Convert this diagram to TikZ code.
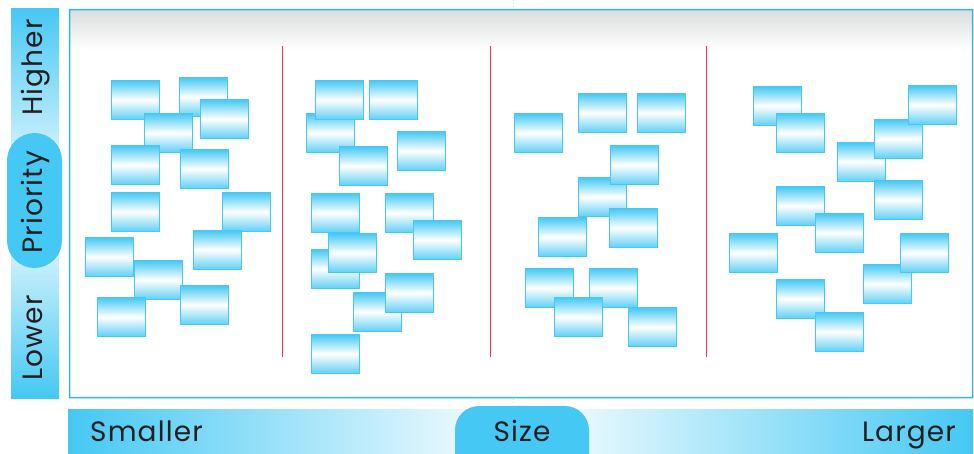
\documentclass[tikz,border=0pt]{standalone}
\usepackage{fontspec}
\setmainfont{Poppins}
\usetikzlibrary{positioning}
\definecolor{skyblue}{RGB}{69,200,243}
\definecolor{framecyan}{RGB}{50,182,232}
\definecolor{splitred}{RGB}{236,51,88}
\definecolor{inkgray}{RGB}{35,31,32}
\definecolor{topgray}{RGB}{220,221,222}
\tikzset{
  card/.style={draw=skyblue, line width=0.8pt, minimum width=48pt, minimum height=39pt,
    inner sep=0pt, anchor=north west, top color=skyblue, bottom color=skyblue!85, middle color=white},
  splitline/.style={draw=splitred, line width=1pt},
  axislabel/.style={text=inkgray, font=\fontsize{28}{30}\selectfont\addfontfeature{LetterSpace=4},
    inner sep=0pt},
}

\begin{document}
\begin{tikzpicture}[x=1pt, y=-1pt]
  \useasboundingbox (0,0) rectangle (974,453);

  % board with grey top band, frame and centre ticks
  \shade[top color=topgray, bottom color=white] (70,10) rectangle (972,50);
  \fill[framecyan, even odd rule] (68.8,8.8) rectangle (973.4,398.4) (70.4,10.4) rectangle (971.8,396.8);
  \draw[draw=skyblue!45, dotted, line width=1pt] (513,0) -- (513,8.5);
  \draw[draw=skyblue!45, dotted, line width=1pt] (513,399) -- (513,405);

  % column splits
  \draw[splitline] (282,46) -- (282,357);
  \draw[splitline] (490,46) -- (490,357);
  \draw[splitline] (706,46) -- (706,357);

  % priority axis
  \shade[top color=skyblue, bottom color=white] (11,8) rectangle (59,203);
  \shade[top color=white, bottom color=skyblue] (11,203) rectangle (59,398);
  \fill[skyblue, rounded corners=27.5pt] (7,133) rectangle (62,268);
  \node[axislabel, rotate=90, anchor=base] (higher) at (42,67.5) {Higher};
  \node[axislabel, rotate=90, anchor=base] (prio) at (42,202.5) {Priority};
  \node[axislabel, rotate=90, anchor=base] (lower) at (42,338) {Lower};

  % size axis
  \shade[left color=skyblue, right color=white] (68,409) rectangle (521,453);
  \shade[left color=white, right color=skyblue] (521,409) rectangle (973,453);
  \begin{scope}
    \clip (0,0) rectangle (974,453);
    \fill[skyblue, rounded corners=24pt] (455,480) -- (455,406) -- (589,406) -- (589,480) -- cycle;
  \end{scope}
  \node[axislabel, anchor=base west] (smaller) at (90,441) {Smaller};
  \node[axislabel, anchor=base] (size) at (522,441) {Size};
  \node[axislabel, anchor=base east] (larger) at (956,441) {Larger};

  % tasks, smallest column
  \foreach \x/\y [count=\i] in {111/80, 179/77, 144/113, 200/99, 111/145, 180/149, 111/192,
      222/192, 85/237, 193/230, 134/260, 180/285, 97/297}
    \node[card] (tiny-\i) at (\x,\y) {};
  % small column
  \foreach \x/\y [count=\i] in {306/113, 315/80, 369/80, 339/146, 397/131, 311/193, 385/193,
      413/220, 311/249, 328/233, 353/292, 385/273, 311/334}
    \node[card] (small-\i) at (\x,\y) {};
  % medium column
  \foreach \x/\y [count=\i] in {514/113, 578/93, 637/93, 578/177, 610/145, 538/217, 609/208,
      525/268, 589/268, 554/297, 628/307}
    \node[card] (mid-\i) at (\x,\y) {};
  % large column
  \foreach \x/\y [count=\i] in {753/86, 776/113, 837/142, 874/119, 908/85, 874/180, 776/186,
      815/213, 729/233, 863/264, 900/233, 776/279, 815/312}
    \node[card] (big-\i) at (\x,\y) {};
\end{tikzpicture}
\end{document}
